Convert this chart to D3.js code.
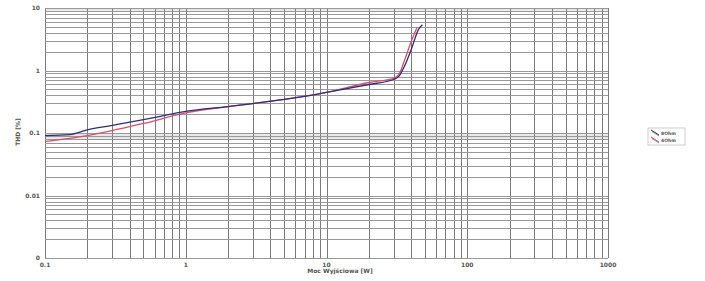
<!DOCTYPE html>
<html>
<head>
<meta charset="utf-8">
<script src="https://cdn.jsdelivr.net/npm/d3@7"></script>
<style>
    body { margin: 0; background: #fff; }
    svg { display: block; }
    text { font-family: "DejaVu Sans", sans-serif; fill: #555; }
</style>
</head>
<body>
<svg id="chart" width="705" height="281"></svg>
<script>
// moc wyjsciowa [W] vs THD [%]
let power_blue = [0.1, 0.15, 0.2, 0.3, 0.5, 0.7, 1, 2, 3, 5, 7, 10, 20, 30, 33, 36, 40, 45, 48]
let thd_blue = [0.091, 0.094, 0.112, 0.132, 0.164, 0.19, 0.222, 0.265, 0.296, 0.344, 0.384, 0.445, 0.597, 0.718, 0.83, 1.2, 2.17, 4.5, 5.4]

let power_red = [0.1, 0.2, 0.5, 1, 2, 5, 10, 20, 30, 33, 36, 40, 44]
let thd_red = [0.073, 0.091, 0.142, 0.21, 0.265, 0.344, 0.445, 0.643, 0.745, 0.9, 1.5, 2.9, 4.9]

let x_ticks = [0.1, 1, 10, 100, 1000]
let x_tick_labels = ['0.1', '1', '10', '100', '1000']
let y_ticks = [10, 1, 0.1, 0.01, 0.001]
let y_tick_labels = ['10', '1', '0.1', '0.01', '0']

let legend_labels = ['8Ohm', '4Ohm']

let pad = { 'l': 45, 'r': 97, 't': 8, 'b': 23 }
let width = 705
let height = 281

let svg = d3.select('#chart')

let x = d3.scaleLog().domain([0.1, 1000]).range([pad.l, width - pad.r])
let y = d3.scaleLog().domain([0.001, 10]).range([height - pad.b, pad.t])

// faint bands as in the original
svg.append('rect')
    .attr('x', x(0.1)).attr('width', x(1000) - x(0.1))
    .attr('y', y(10)).attr('height', y(9) - y(10))
    .attr('fill', '#e8e8e8')
svg.append('rect')
    .attr('x', x(0.1)).attr('width', x(1000) - x(0.1))
    .attr('y', y(0.1)).attr('height', y(0.08) - y(0.1))
    .attr('fill', '#e8e8e8')

// grid
let x_grid = []
let y_grid = []
for (let e = -1; e < 3; e++)
    for (let m = 1; m < 10; m++)
        x_grid.push(m * Math.pow(10, e))
x_grid.push(1000)
for (let e = -3; e < 1; e++)
    for (let m = 1; m < 10; m++)
        y_grid.push(m * Math.pow(10, e))
y_grid.push(10)

svg.append('g').selectAll('line').data(x_grid).enter()
    .append('line')
    .attr('x1', d => Math.round(x(d)) + 0.5)
    .attr('x2', d => Math.round(x(d)) + 0.5)
    .attr('y1', y(10)).attr('y2', y(0.001))
    .attr('stroke', '#7a7a7a')
    .attr('stroke-width', 1)

svg.append('g').selectAll('line').data(y_grid).enter()
    .append('line')
    .attr('y1', d => Math.round(y(d)) + 0.5)
    .attr('y2', d => Math.round(y(d)) + 0.5)
    .attr('x1', x(0.1)).attr('x2', x(1000))
    .attr('stroke', '#999')
    .attr('stroke-width', 1)

// axis labels
svg.append('g').selectAll('text').data(y_ticks).enter()
    .append('text')
    .attr('x', pad.l - 5)
    .attr('y', d => y(d) + 2)
    .attr('text-anchor', 'end')
    .style('font-size', '6px')
    .style('font-weight', 'bold')
    .text((d, i) => y_tick_labels[i])

svg.append('g').selectAll('text').data(x_ticks).enter()
    .append('text')
    .attr('x', d => x(d))
    .attr('y', height - pad.b + 9)
    .attr('text-anchor', 'middle')
    .style('font-size', '6px')
    .style('font-weight', 'bold')
    .text((d, i) => x_tick_labels[i])

svg.append('text')
    .attr('x', 340)
    .attr('y', height - pad.b + 15)
    .attr('text-anchor', 'middle')
    .style('font-size', '6px')
    .style('font-weight', 'bold')
    .text('Moc Wyjściowa [W]')

svg.append('text')
    .attr('transform', 'translate(20,132) rotate(-90)')
    .attr('text-anchor', 'middle')
    .style('font-size', '6px')
    .style('font-weight', 'bold')
    .text('THD [%]')

// curves
let line = d3.line()
    .x(d => x(d[0]))
    .y(d => y(d[1]))
    .curve(d3.curveMonotoneX)

svg.append('path')
    .datum(power_red.map((p, i) => [p, thd_red[i]]))
    .attr('d', line)
    .attr('fill', 'none')
    .attr('stroke', '#d8506e')
    .attr('stroke-width', 1.3)

svg.append('path')
    .datum(power_blue.map((p, i) => [p, thd_blue[i]]))
    .attr('d', line)
    .attr('fill', 'none')
    .attr('stroke', '#2e2e78')
    .attr('stroke-width', 1.3)

// legend
let legend = svg.append('g').attr('transform', 'translate(648,128)')
legend.append('rect')
    .attr('width', 37).attr('height', 17)
    .attr('fill', '#fff')
    .attr('stroke', '#bbb')
    .attr('stroke-width', 0.7)
let legend_colors = ['#2e2e78', '#d8506e']
legend_labels.forEach((lab, i) => {
    let g = legend.append('g').attr('transform', `translate(0,${2 + i * 7})`)
    g.append('line')
        .attr('x1', 3).attr('y1', 0).attr('x2', 11).attr('y2', 5)
        .attr('stroke', legend_colors[i]).attr('stroke-width', 1)
    g.append('line')
        .attr('x1', 4).attr('y1', 1.5).attr('x2', 11).attr('y2', 6)
        .attr('stroke', '#444').attr('stroke-width', 0.6)
    g.append('text')
        .attr('x', 13).attr('y', 5)
        .style('font-size', '4.5px')
        .style('font-weight', 'bold')
        .text(lab)
})
</script>
</body>
</html>
